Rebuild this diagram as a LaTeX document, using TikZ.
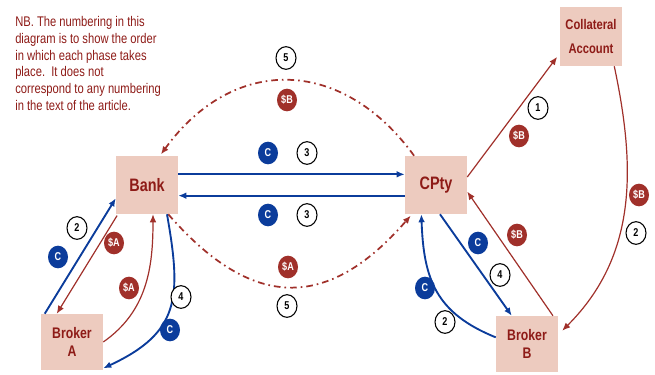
\documentclass[tikz,border=0pt]{standalone}
\usepackage{fontspec}
\setmainfont{Liberation Sans}[FakeStretch=0.8]
\usetikzlibrary{arrows.meta,shapes.geometric}
\definecolor{partyfill}{HTML}{EDCBBF}
\definecolor{partytext}{HTML}{8E1B17}
\definecolor{cashred}{HTML}{A0302A}
\definecolor{collblue}{HTML}{0B3C9B}
\tikzset{
  party/.style={rectangle,fill=partyfill,text=partytext,align=center,
    inner sep=0pt,minimum width=46.5pt,minimum height=43.5pt},
  tag/.style={ellipse,inner sep=0pt,minimum width=15pt,minimum height=17pt,
    font=\bfseries\fontsize{8.5}{9}\selectfont},
  num/.style={tag,draw=black,line width=0.8pt,fill=white},
  coll tag/.style={tag,fill=collblue,text=white},
  cash tag/.style={tag,fill=cashred,text=white},
  coll flow/.style={draw=collblue,line width=1.4pt,-{Latex[length=6pt,width=5pt]}},
  cash flow/.style={draw=cashred,line width=0.9pt,-{Latex[length=6pt,width=5pt]}},
  settle flow/.style={cash flow,line width=1.3pt,
    dash pattern=on 5pt off 3pt on 1.2pt off 3pt}
}

\begin{document}
\begin{tikzpicture}[x=0.75pt,y=-0.75pt]
  \useasboundingbox (0,0) rectangle (655,374);
  % parties
  \node[party,font=\bfseries\fontsize{13.5}{16}\selectfont] (bank) at (147,185) {Bank};
  \node[party,font=\bfseries\fontsize{13.5}{16}\selectfont] (cpty) at (436,185) {CPty};
  \node[party,minimum height=42pt,font=\bfseries\fontsize{11.5}{14}\selectfont]
    (brokerA) at (72,342) {Broker\\A};
  \node[party,minimum height=42pt,font=\bfseries\fontsize{11.5}{14}\selectfont]
    (brokerB) at (527,344) {Broker\\B};
  \node[party,minimum height=44.25pt,font=\bfseries\fontsize{10.5}{18}\selectfont]
    (account) at (591,36.5) {Collateral\\Account};
  \node[anchor=north west,align=left,inner sep=0pt,text=partytext,
    font=\fontsize{10.5}{12.6}\selectfont] (note) at (15,16)
    {NB. The numbering in this\\diagram is to show the order\\in which each phase takes\\
     place.\ \ It does not\\correspond to any numbering\\in the text of the article.};
  % bank <-> cpty
  \draw[coll flow] ([yshift=8pt]bank.east) -- ([yshift=8pt]cpty.west);
  \draw[coll flow] ([yshift=-8pt]cpty.west) -- ([yshift=-8pt]bank.east);
  \draw[settle flow] ([xshift=7pt]cpty.north west)
    to[out=126,in=54,looseness=1.24] ([xshift=-13pt,yshift=1pt]bank.north east);
  \draw[settle flow] ([xshift=-7.5pt]bank.south east)
    to[out=-49,in=-131,looseness=1.34] ([xshift=4.5pt,yshift=-1pt]cpty.south west);
  % broker A side
  \draw[coll flow] ([xshift=3pt]brokerA.north west) -- ([yshift=-10pt]bank.west);
  \draw[cash flow] ([xshift=1pt,yshift=-1pt]bank.south west) -- ([xshift=12pt]brokerA.north west);
  \draw[cash flow] (brokerA.east) to[out=35,in=-90] ([xshift=4.5pt]bank.south);
  \draw[coll flow] ([xshift=15pt]bank.south)
    to[out=-80,in=25,looseness=1.3] ([yshift=1.5pt]brokerA.south east);
  % broker B side
  \draw[cash flow] ([yshift=6pt]cpty.east) -- ([xshift=-2pt,yshift=7pt]account.south west);
  \draw[cash flow] ([xshift=-6pt]account.south east)
    to[out=-78,in=45] ([xshift=3pt,yshift=10pt]brokerB.east);
  \draw[cash flow] ([xshift=-4pt]brokerB.north east) -- ([yshift=-5pt]cpty.east);
  \draw[coll flow] ([xshift=3pt]cpty.south) -- ([xshift=12pt]brokerB.north west);
  \draw[coll flow] ([yshift=5pt]brokerB.west)
    to[out=158,in=-88,looseness=1.15] ([xshift=-11pt]cpty.south);
  % tags
  \foreach \x/\y/\t [count=\i] in {307/153/3,307/215/3,286/58/5,287/306/5,77/228/2,
      181/297/4,538/108/1,636/233/2,500/275/4,445/322/2}
    \node[num] (num\i) at (\x,\y) {\t};
  \foreach \x/\y [count=\i] in {268/153,268/215,58/257,170/330,478/243,425/288}
    \node[coll tag] (coll\i) at (\x,\y) {C};
  \foreach \x/\y/\t [count=\i] in {287/100/B,288/267/A,114/243/A,129/288/A,
      519/136/B,639/195/B,517/235/B}
    \node[cash tag] (cash\i) at (\x,\y) {\$\t};
\end{tikzpicture}
\end{document}
